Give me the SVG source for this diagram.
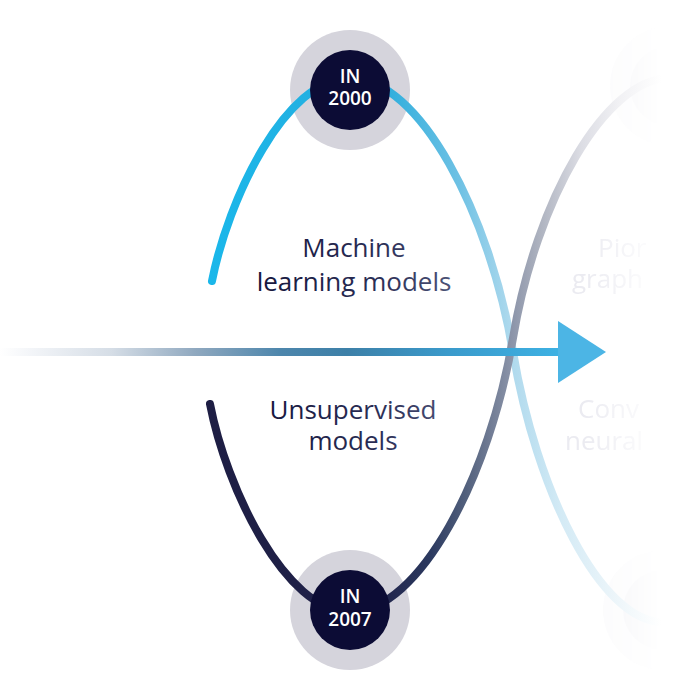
<svg xmlns="http://www.w3.org/2000/svg" width="700" height="700" viewBox="0 0 700 700">
  <defs>
    <linearGradient id="gTop" gradientUnits="userSpaceOnUse" x1="210" y1="0" x2="680" y2="0">
      <stop offset="0" stop-color="#1ab7ea"/>
      <stop offset="0.36" stop-color="#28acdc"/>
      <stop offset="0.53" stop-color="#6ec1e4"/>
      <stop offset="0.64" stop-color="#aed9ed"/>
      <stop offset="0.745" stop-color="#d3eaf5"/>
      <stop offset="0.87" stop-color="#eef6fa"/>
      <stop offset="0.96" stop-color="#ffffff"/>
    </linearGradient>
    <linearGradient id="gBot" gradientUnits="userSpaceOnUse" x1="210" y1="0" x2="680" y2="0">
      <stop offset="0" stop-color="#1e1e44"/>
      <stop offset="0.36" stop-color="#20234a"/>
      <stop offset="0.47" stop-color="#2c3a60"/>
      <stop offset="0.55" stop-color="#55637f"/>
      <stop offset="0.64" stop-color="#8a93a8"/>
      <stop offset="0.70" stop-color="#adb2bf"/>
      <stop offset="0.79" stop-color="#dcdde4"/>
      <stop offset="0.87" stop-color="#f1f1f4"/>
      <stop offset="0.96" stop-color="#ffffff"/>
    </linearGradient>
    <linearGradient id="gAxis" gradientUnits="userSpaceOnUse" x1="0" y1="0" x2="560" y2="0">
      <stop offset="0" stop-color="#ffffff"/>
      <stop offset="0.05" stop-color="#f4f6f9"/>
      <stop offset="0.2" stop-color="#d5dde6"/>
      <stop offset="0.35" stop-color="#8fa8bf"/>
      <stop offset="0.5" stop-color="#4d86ac"/>
      <stop offset="0.62" stop-color="#3d80a8"/>
      <stop offset="0.8" stop-color="#3a9acb"/>
      <stop offset="1" stop-color="#3db1e3"/>
    </linearGradient>
    <linearGradient id="gText" gradientUnits="userSpaceOnUse" x1="250" y1="0" x2="460" y2="0">
      <stop offset="0" stop-color="#15153b"/>
      <stop offset="0.6" stop-color="#2a2d55"/>
      <stop offset="1" stop-color="#50567a"/>
    </linearGradient>
    <linearGradient id="gFade" gradientUnits="userSpaceOnUse" x1="585" y1="0" x2="660" y2="0">
      <stop offset="0" stop-color="#ffffff"/>
      <stop offset="1" stop-color="#000000"/>
    </linearGradient>
    <mask id="fadeR" maskUnits="userSpaceOnUse" x="0" y="0" width="700" height="700">
      <rect x="0" y="0" width="700" height="700" fill="url(#gFade)"/>
    </mask>
    <style>
      .curve { fill: none; stroke-width: 8; stroke-linecap: round; }
      .ring { fill: #d5d4dc; }
      .core { fill: #0c0c35; }
      .yr { font-family: "Open Sans", "Liberation Sans", sans-serif; font-size: 19px; font-weight: 600; fill: #ffffff; text-anchor: middle; }
      .lbl { font-family: "Open Sans", "Liberation Sans", sans-serif; font-size: 26px; font-weight: 400; fill: url(#gText); text-anchor: middle; }
      .ghost { font-family: "Open Sans", "Liberation Sans", sans-serif; font-size: 26px; font-weight: 400; fill: #ebebf1; }
    </style>
  </defs>

  <g id="next-period" mask="url(#fadeR)">
    <g id="node-next-top">
      <circle cx="670" cy="86" r="60" fill="#fbfbfc"/>
      <circle cx="670" cy="86" r="40" fill="#f3f3f6"/>
    </g>
    <g id="node-next-bottom">
      <circle cx="663" cy="610" r="60" fill="#fbfbfc"/>
      <circle cx="663" cy="610" r="40" fill="#f3f3f6"/>
    </g>
    <g id="label-next-top">
      <text class="ghost" x="598" y="257">Pior</text>
      <text class="ghost" x="572" y="288">graph</text>
    </g>
    <g id="label-next-bottom">
      <text class="ghost" x="578" y="418">Conv</text>
      <text class="ghost" x="565" y="450">neural</text>
    </g>
  </g>

  <g id="node-halos">
    <circle id="node-2000-halo" class="ring" cx="350" cy="90" r="60"/>
    <circle id="node-2007-halo" class="ring" cx="350" cy="610" r="60"/>
  </g>

  <g id="connectors">
    <path id="curve-top" class="curve" stroke="url(#gTop)" d="M212,281 C228,200 285,78 350,78 C420,78 490,215 513,352 C536,489 600,622 663,622"/>
    <path id="curve-bottom" class="curve" stroke="url(#gBot)" d="M210,404 C226,487 285,612 350,612 C420,612 490,475 513,338 C536,201 605,78 670,78"/>
    <line id="axis" x1="0" y1="352" x2="562" y2="352" stroke="url(#gAxis)" stroke-width="8"/>
    <polygon id="arrowhead" points="558,321 606,352 558,383" fill="#4cb5e5"/>
  </g>

  <g id="node-2000">
    <circle class="core" cx="350" cy="90" r="40"/>
    <text class="yr" x="350" y="83">IN</text>
    <text class="yr" x="350" y="105">2000</text>
  </g>

  <g id="node-2007">
    <circle class="core" cx="350" cy="610" r="40"/>
    <text class="yr" x="350" y="603">IN</text>
    <text class="yr" x="350" y="626">2007</text>
  </g>

  <g id="label-machine-learning">
    <text class="lbl" x="354" y="257">Machine</text>
    <text class="lbl" x="354" y="291">learning models</text>
  </g>

  <g id="label-unsupervised">
    <text class="lbl" x="353" y="419">Unsupervised</text>
    <text class="lbl" x="353" y="450">models</text>
  </g>
</svg>
